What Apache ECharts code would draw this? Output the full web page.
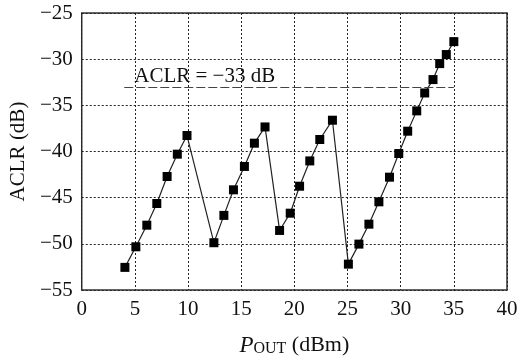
<!DOCTYPE html>
<html>
<head>
<meta charset="utf-8">
<script src="https://cdn.jsdelivr.net/npm/echarts@6/dist/echarts.min.js"></script>
<style>
  html, body { margin: 0; padding: 0; background: #fff; }
  #chart { width: 528px; height: 362px; }
</style>
</head>
<body>
<div id="chart"></div>
<script>
// measured points, P_OUT (dBm) vs ACLR (dB)
var pout = [4.06, 5.09, 6.12, 7.06, 8.03, 8.99, 9.9,
            12.43, 13.37, 14.27, 15.3, 16.24, 17.24,
            18.61, 19.61, 20.49, 21.45, 22.39, 23.58,
            25.08, 26.07, 27.01, 27.95, 28.95, 29.82, 30.66,
            31.51, 32.26, 33.04, 33.67, 34.29, 35.0];
var aclr = [-52.55, -50.32, -47.98, -45.63, -42.71, -40.29, -38.27,
            -49.88, -46.92, -44.15, -41.62, -39.1, -37.34,
            -48.55, -46.68, -43.76, -41.02, -38.7, -36.61,
            -52.2, -50.03, -47.87, -45.45, -42.78, -40.22, -37.8,
            -35.6, -33.66, -32.21, -30.48, -29.5, -28.1];
var limitLevel = -33;
var limitRange = [4, 35];
var limitText = 'ACLR = \u221233 dB';

var font = 'Liberation Serif';
var points = pout.map(function (x, i) { return [x, aclr[i]]; });
var minusFmt = function (v) { return String(v).replace('-', '\u2212'); };

var chart = echarts.init(document.getElementById('chart'));
chart.setOption({
  animation: false,
  grid: {
    left: 80, right: 21, top: 13, bottom: 72,
    show: true, borderColor: '#333', borderWidth: 1.5
  },
  xAxis: {
    type: 'value', min: 0, max: 40, interval: 5,
    name: '{i|P}{s|OUT} {t|(dBm)}',
    nameLocation: 'middle', nameGap: 44,
    nameTextStyle: {
      fontFamily: font, fontSize: 22, color: '#111',
      rich: {
        i: { fontFamily: font, fontSize: 23, fontStyle: 'italic', color: '#111' },
        s: { fontFamily: font, fontSize: 16, color: '#111', verticalAlign: 'bottom', padding: [6, 0, 0, 0] },
        t: { fontFamily: font, fontSize: 22, color: '#111' }
      }
    },
    axisLine: { show: false },
    axisTick: { show: false },
    axisLabel: { fontFamily: font, fontSize: 21, color: '#111', margin: 9 },
    splitLine: { lineStyle: { color: '#222', type: [2, 2], width: 1 } }
  },
  yAxis: {
    type: 'value', min: -55, max: -25, interval: 5,
    name: 'ACLR (dB)',
    nameLocation: 'middle', nameGap: 40,
    nameTextStyle: { fontFamily: font, fontSize: 21, color: '#111' },
    axisLine: { show: false },
    axisTick: { show: false },
    axisLabel: { fontFamily: font, fontSize: 21, color: '#111', margin: 9, formatter: minusFmt },
    splitLine: { lineStyle: { color: '#222', type: [2, 2], width: 1 } }
  },
  series: [{
    type: 'line',
    data: points,
    symbol: 'rect',
    symbolSize: 9,
    itemStyle: { color: '#000' },
    lineStyle: { color: '#222', width: 1.2 },
    markLine: {
      silent: true,
      symbol: ['none', 'none'],
      lineStyle: { color: '#444', type: [9, 3], width: 1 },
      label: {
        show: true, position: 'insideStartTop', distance: [10, 0],
        formatter: limitText,
        fontFamily: font, fontSize: 21, color: '#111'
      },
      data: [[
        { coord: [limitRange[0], limitLevel] },
        { coord: [limitRange[1], limitLevel] }
      ]]
    }
  }]
});
</script>
</body>
</html>
